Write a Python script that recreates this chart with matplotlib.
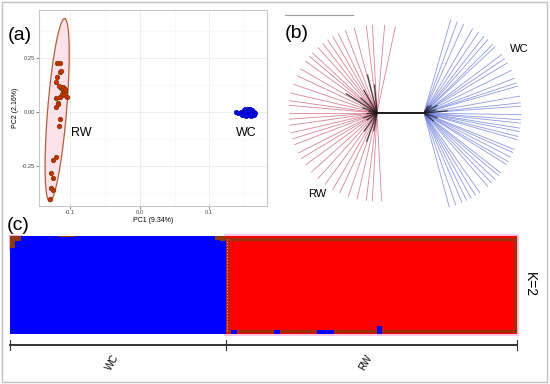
import numpy as np
import matplotlib
matplotlib.use('Agg')
import matplotlib.pyplot as plt
from matplotlib.patches import Rectangle

plt.rcParams['font.family'] = ['Liberation Sans', 'DejaVu Sans']

# (a) PCA scores
rw_pc1 = [-0.119, -0.114, -0.115, -0.113, -0.119, -0.120, -0.113, -0.110, -0.108,
          -0.114, -0.105, -0.121, -0.118, -0.120, -0.115, -0.116, -0.125, -0.121,
          -0.127, -0.125, -0.127, -0.125, -0.129, -0.111, -0.107, -0.112, -0.109,
          -0.116, -0.117]
rw_pc2 = [0.228, 0.228, 0.187, 0.190, 0.161, 0.137, 0.110, 0.102, 0.094,
          0.071, 0.071, 0.063, 0.040, 0.022, -0.034, -0.065, -0.222, -0.210,
          -0.281, -0.304, -0.353, -0.361, -0.404, 0.115, 0.108, 0.085, 0.080,
          0.120, 0.036]
wc_pc1 = [0.139, 0.142, 0.145, 0.148, 0.150, 0.152, 0.155, 0.158, 0.161, 0.164,
          0.166, 0.164, 0.160, 0.156, 0.152, 0.149, 0.154, 0.158, 0.162, 0.156,
          0.151, 0.159, 0.153, 0.147]
wc_pc2 = [-0.002, -0.003, -0.001, 0.002, 0.008, 0.012, 0.014, 0.012, 0.008, 0.002,
          -0.006, -0.014, -0.018, -0.015, -0.010, -0.006, -0.002, 0.003, -0.008, 0.006,
          0.000, -0.010, -0.018, -0.012]
# confidence ellipse of RW: centre, half major axis, half minor axis
rw_ell_center = (-0.1188, 0.009)
rw_ell_major = (0.0107, 0.4232)
rw_ell_minor = (0.0137, 0.0)

# (b) tree: tip angles (deg), tip lengths and internal branches (angle, length)
rw_tip_angles = [78, 85, 93, 97, 105, 111, 116, 120, 124, 128, 132, 137, 140, 144,
                 150, 155, 161, 167, 172, 175, 180, 184, 188, 193, 197, 201, 207,
                 211, 216, 222, 228, 234, 240, 245, 251, 257, 263, 267, 273]
wc_tip_angles = [74, 70, 66, 60, 56, 52, 49, 45, 43, 37, 34, 31, 26, 21, 18, 16, 10,
                 6, 4, -1, -4, -6, -9, -11, -14, -16, -22, -24, -27, -30, -32, -38,
                 -40, -43, -46, -49, -55, -58, -61, -64, -67, -71, -75]
rw_tip_len = 88
wc_tip_len = 97
hub_dist = 47
rw_internal = [(148, 36), (104, 39), (137, 22), (120, 26), (160, 15), (200, 14),
               (250, 30), (235, 22), (260, 18), (95, 28), (180, 10), (215, 12), (170, 8)]
wc_internal = [(5, 23), (30, 15), (-20, 14), (45, 10), (-40, 12), (15, 12), (60, 8)]

# (c) STRUCTURE K=2, proportion of the blue cluster per individual
wc_blue = [0.88, 0.95, 1.0, 1.0, 1.0, 1.0, 1.0, 1.0, 1.0, 0.99, 0.99, 0.99, 1.0,
           1.0, 1.0, 1.0, 1.0, 1.0, 1.0, 1.0, 1.0, 1.0, 1.0, 1.0, 1.0, 1.0, 1.0,
           1.0, 1.0, 1.0, 1.0, 1.0, 1.0, 1.0, 1.0, 1.0, 1.0, 1.0, 0.96, 0.95]
rw_blue = [0.0, 0.04, 0.0, 0.0, 0.0, 0.0, 0.0, 0.0, 0.0, 0.04, 0.0, 0.0, 0.0, 0.0,
           0.0, 0.0, 0.0, 0.04, 0.04, 0.04, 0.0, 0.0, 0.0, 0.0, 0.0, 0.0, 0.0, 0.0,
           0.08, 0.0, 0.0, 0.0, 0.0, 0.0, 0.0, 0.0, 0.0, 0.0, 0.0, 0.0, 0.0, 0.0,
           0.0, 0.0, 0.0, 0.0, 0.0, 0.0, 0.0, 0.0, 0.0, 0.0, 0.0, 0.0]
groups = ['WC', 'RW']

W, H = 550, 384
fig = plt.figure(figsize=(5.5, 3.84), dpi=100)
fig.patches.append(Rectangle((0.003, 0.005), 0.992, 0.99, transform=fig.transFigure,
                             fill=False, edgecolor='#c0c0c0', lw=1))


def px_axes(x0, y0, x1, y1):
    return fig.add_axes([x0 / W, 1 - y1 / H, (x1 - x0) / W, (y1 - y0) / H])


# ---------- (a) ----------
ax = px_axes(39, 10, 266.5, 206)
ax.set_xlim(-0.1449, 0.1823)
ax.set_ylim(-0.435, 0.472)
ax.set_xticks([-0.1, 0.0, 0.1])
ax.set_xticklabels(['-0.1', '0.0', '0.1'])
ax.set_yticks([-0.25, 0.0, 0.25])
ax.set_yticklabels(['-0.25', '0.00', '0.25'])
ax.set_xticks([-0.05, 0.05, 0.15], minor=True)
ax.set_yticks([-0.375, -0.125, 0.125, 0.375], minor=True)
ax.grid(True, which='major', color='#ebebeb', lw=0.6)
ax.grid(True, which='minor', color='#f3f3f3', lw=0.4)
ax.tick_params(which='major', labelsize=4.2, labelcolor='#4d4d4d', color='#4d4d4d',
               length=2, width=0.5, pad=1)
ax.tick_params(which='minor', length=0)
for s in ax.spines.values():
    s.set_color('#c8c8c8')
    s.set_linewidth(0.8)
ax.set_axisbelow(True)
ax.set_xlabel('PC1 (9.34%)', fontsize=5, labelpad=1)
ax.set_ylabel('PC2 (2.16%)', fontsize=5, labelpad=2)

t = np.linspace(0, 2 * np.pi, 200)
ex = rw_ell_center[0] + rw_ell_major[0] * np.cos(t) + rw_ell_minor[0] * np.sin(t)
ey = rw_ell_center[1] + rw_ell_major[1] * np.cos(t) + rw_ell_minor[1] * np.sin(t)
ax.fill(ex, ey, color='#fbd6e3', alpha=0.7, lw=0, zorder=1)
ax.plot(ex, ey, color='#b0603a', lw=0.9, zorder=2)
ax.scatter(rw_pc1, rw_pc2, s=10, c='#d42a00', edgecolors='#7a4000', linewidths=0.6, zorder=3)
ax.scatter(wc_pc1, wc_pc2, s=10, c='#0010ff', edgecolors='#0000a0', linewidths=0.5, zorder=3)
ax.text(-0.0838, -0.097, 'RW', fontsize=9, ha='center', va='center')
ax.text(0.153, -0.097, 'WC', fontsize=9, ha='center', va='center')

# ---------- (b) ----------
bx = px_axes(270, 0, 550, 210)
bx.set_xlim(0, 280)
bx.set_ylim(0, 210)
bx.axis('off')
rw_hub = np.array([107.0, 97.0])
wc_hub = rw_hub + np.array([hub_dist, 0.0])
for a in rw_tip_angles:
    r = np.radians(a)
    bx.plot([rw_hub[0], rw_hub[0] + rw_tip_len * np.cos(r)],
            [rw_hub[1], rw_hub[1] + rw_tip_len * np.sin(r)],
            color='#c8506a', lw=0.6, alpha=0.7, zorder=1)
for a in wc_tip_angles:
    r = np.radians(a)
    bx.plot([wc_hub[0], wc_hub[0] + wc_tip_len * np.cos(r)],
            [wc_hub[1], wc_hub[1] + wc_tip_len * np.sin(r)],
            color='#5c70d8', lw=0.6, alpha=0.7, zorder=1)
for hub, branches in ((rw_hub, rw_internal), (wc_hub, wc_internal)):
    for a, l in branches:
        r = np.radians(a)
        bx.plot([hub[0], hub[0] + l * np.cos(r)], [hub[1], hub[1] + l * np.sin(r)],
                color='#1a1a1a', lw=0.9, alpha=0.8, zorder=2)
bx.plot([rw_hub[0], wc_hub[0]], [rw_hub[1], wc_hub[1]], color='#1a1a1a', lw=1.4, zorder=3)
bx.plot([15, 83], [195, 195], color='#a0a0a0', lw=0.8)
bx.text(249, 161, 'WC', fontsize=8, ha='center', va='center')
bx.text(47, 16, 'RW', fontsize=8, ha='center', va='center')

# ---------- (c) ----------
cx = px_axes(10, 236, 517, 334)
n_wc, n_rw = len(wc_blue), len(rw_blue)
n = n_wc + n_rw
cx.set_xlim(0, n)
cx.set_ylim(0, 1)
cx.axis('off')
blue = np.array(wc_blue + rw_blue)
xs = np.arange(n) + 0.5
top_col = ['#8b3a12'] * n_wc + ['#ff0000'] * n_rw
cx.bar(xs, 1 - blue, bottom=blue, width=1.0, color=top_col, lw=0, zorder=2)
cx.add_patch(Rectangle((n_wc, 0), n_rw, 1, fill=False, edgecolor='#fbc8ea', lw=3,
                       zorder=1, clip_on=False))
cx.add_patch(Rectangle((n_wc + 0.35, 0.03), n_rw - 0.7, 0.94, fill=False,
                       edgecolor='#a0300a', lw=2.4, zorder=3, clip_on=False))
cx.bar(xs, blue, width=1.0, color='#0000ff', lw=0, zorder=4)
cx.plot([n_wc + 0.2, n_wc + 0.2], [0.03, 0.97], color='#ff9ad0', lw=0.8, ls=':', zorder=5)
cx.add_patch(Rectangle((0, 0.86), 2.2, 0.14, fill=False, edgecolor='#f5a0d8', lw=1.2,
                       zorder=1, clip_on=False))

# group bracket and labels
edges = [0, n_wc, n]
cx.plot([0, n], [-0.11, -0.11], color='#333333', lw=1.4, clip_on=False)
for e in edges:
    cx.plot([e, e], [-0.06, -0.16], color='#333333', lw=0.8, clip_on=False)
for g, lo, hi in zip(groups, edges[:-1], edges[1:]):
    cx.text((lo + hi) / 2 - 1, -0.295, g, fontsize=7, rotation=60, ha='center',
            va='center', clip_on=False)
cx.text(n + 2.4, 0.5, 'K=2', fontsize=10, rotation=-90, ha='center', va='center')

fig.text(8 / W, 1 - 36 / H, '(a)', fontsize=14, va='center')
fig.text(285 / W, 1 - 34 / H, '(b)', fontsize=14, va='center')
fig.text(7 / W, 1 - 226 / H, '(c)', fontsize=14, va='center')

fig.savefig('out.png', dpi=100)
